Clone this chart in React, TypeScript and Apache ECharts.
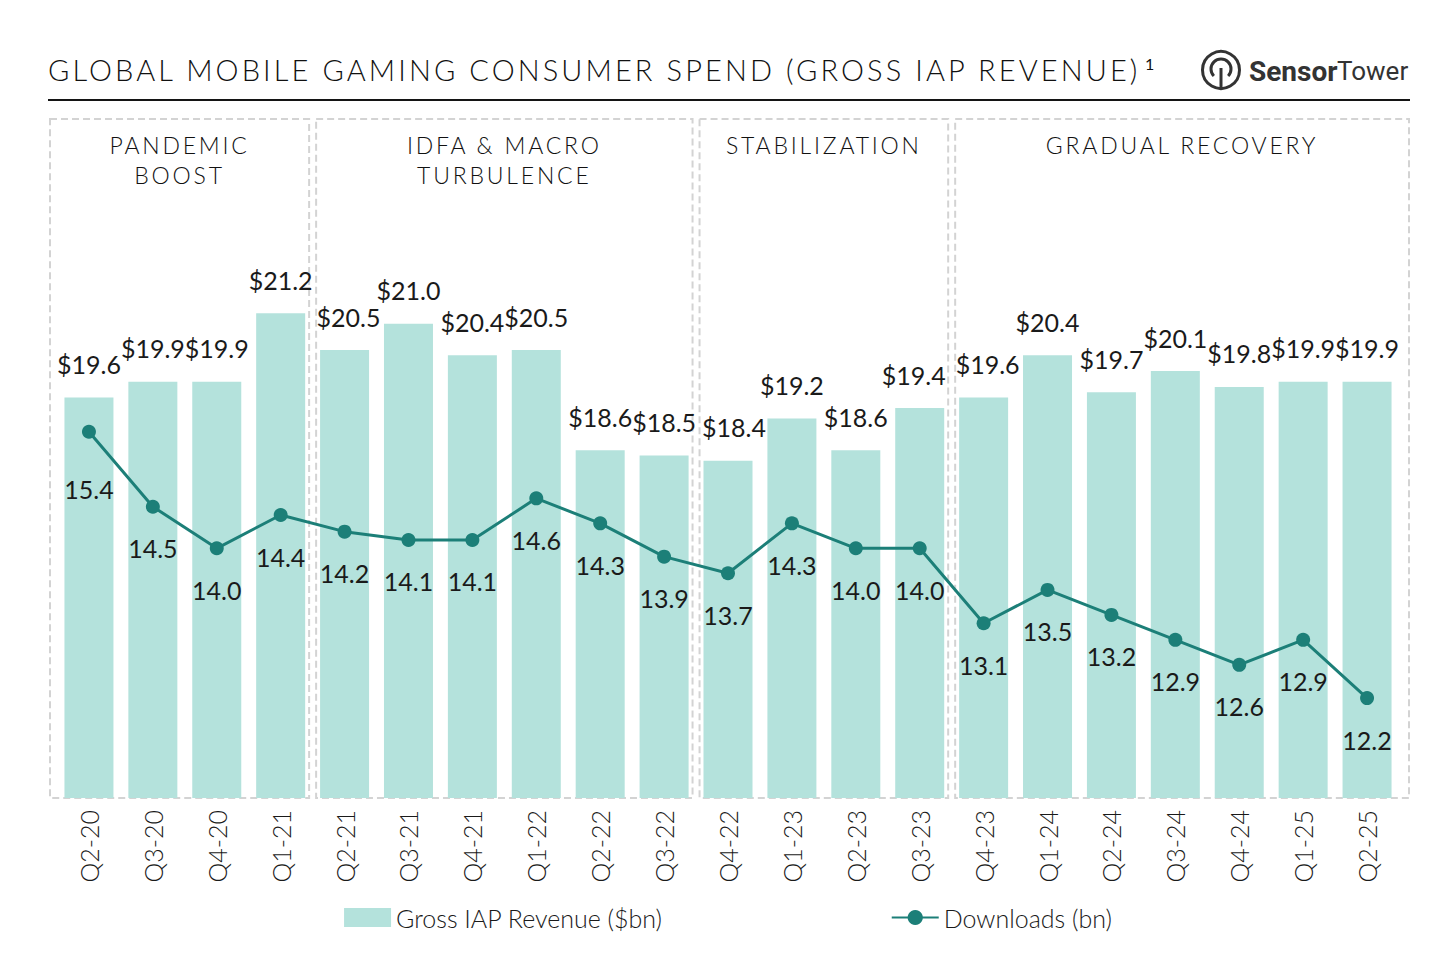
import { useRef, useEffect } from 'react'
import * as echarts from 'echarts'

const quarters = [
  'Q2-20', 'Q3-20', 'Q4-20', 'Q1-21', 'Q2-21', 'Q3-21', 'Q4-21', 'Q1-22', 'Q2-22', 'Q3-22', 'Q4-22',
  'Q1-23', 'Q2-23', 'Q3-23', 'Q4-23', 'Q1-24', 'Q2-24', 'Q3-24', 'Q4-24', 'Q1-25', 'Q2-25'
]
const revenue = [
  19.6, 19.9, 19.9, 21.2, 20.5, 21.0, 20.4, 20.5, 18.6, 18.5, 18.4,
  19.2, 18.6, 19.4, 19.6, 20.4, 19.7, 20.1, 19.8, 19.9, 19.9
]
const downloads = [
  15.4, 14.5, 14.0, 14.4, 14.2, 14.1, 14.1, 14.6, 14.3, 13.9, 13.7,
  14.3, 14.0, 14.0, 13.1, 13.5, 13.2, 12.9, 12.6, 12.9, 12.2
]
const phaseNames = ['PANDEMIC\nBOOST', 'IDFA & MACRO\nTURBULENCE', 'STABILIZATION', 'GRADUAL RECOVERY']
const phaseStart = ['Q2-20', 'Q2-21', 'Q4-22', 'Q4-23']
const phaseEnd = ['Q1-21', 'Q3-22', 'Q3-23', 'Q2-25']

const TITLE = 'GLOBAL MOBILE GAMING CONSUMER SPEND (GROSS IAP REVENUE)'
const REV_NAME = 'Gross IAP Revenue ($bn)'
const DL_NAME = 'Downloads (bn)'

const W = 1456
const H = 958
const GRID_L = 57
const GRID_R = 57
const GRID_TOP = 115.5
const GRID_BOTTOM = 160
const BAR = '#b4e2dc'
const LINE = '#1c7f78'
const INK = '#1a1a1a'
const FONT = 'Lato'

// small sideways nudges where a label would touch a phase border
const barNudge: Record<string, number> = { 'Q2-21': 4, 'Q4-22': 6, 'Q3-23': -6, 'Q4-23': 4 }
const dlNudge: Record<string, number> = { 'Q2-20': 16 }

export default function App() {
  const ref = useRef<HTMLDivElement>(null)

  useEffect(() => {
    const el = ref.current
    if (!el) return
    const chart = echarts.init(el, null, { renderer: 'svg' })

    const cw = (W - GRID_L - GRID_R) / quarters.length
    const baseY = H - GRID_BOTTOM
    const boxTop = 119

    const boxes: any[] = []
    phaseNames.forEach((name, k) => {
      const a = quarters.indexOf(phaseStart[k])
      const b = quarters.indexOf(phaseEnd[k])
      const x0 = k === 0 ? GRID_L - 7 : GRID_L + a * cw + 3.5
      const x1 = k === phaseNames.length - 1 ? GRID_L + (b + 1) * cw + 10 : GRID_L + (b + 1) * cw - 3.5
      boxes.push({
        type: 'rect',
        z: 0,
        shape: { x: x0, y: boxTop, width: x1 - x0, height: baseY - boxTop },
        style: { fill: 'none', stroke: '#d3d3d3', lineWidth: 2, lineDash: [7, 4] }
      })
      boxes.push({
        type: 'text',
        z: 5,
        x: (x0 + x1) / 2,
        y: 130,
        style: {
          text: name,
          fontSize: 23,
          fontFamily: FONT,
          fontWeight: 300,
          fill: '#111',
          align: 'center',
          verticalAlign: 'top',
          lineHeight: 30
        }
      })
    })

    const option: any = {
      animation: false,
      backgroundColor: '#ffffff',
      grid: { left: GRID_L, right: GRID_R, top: GRID_TOP, bottom: GRID_BOTTOM },
      legend: {
        left: 'center',
        top: 900,
        itemWidth: 47,
        itemHeight: 19,
        itemGap: 228,
        textStyle: { fontSize: 25, color: INK, fontFamily: FONT, fontWeight: 300 },
        data: [{ name: REV_NAME, icon: 'rect' }, { name: DL_NAME }]
      },
      xAxis: {
        type: 'category',
        data: quarters,
        axisLine: { show: false },
        axisTick: { show: false },
        axisLabel: { rotate: 90, margin: 12, fontSize: 25, color: INK, fontFamily: FONT, fontWeight: 300 }
      },
      yAxis: [
        { type: 'value', min: 12, max: 24.95, show: false },
        { type: 'value', min: 11, max: 19.2, show: false }
      ],
      graphic: [
        {
          type: 'text',
          x: 48,
          y: 69,
          style: { text: TITLE, fontSize: 29, fontFamily: FONT, fontWeight: 300, fill: '#111', verticalAlign: 'middle' }
        },
        {
          type: 'text',
          x: 1145,
          y: 63,
          style: { text: '1', fontSize: 16, fontFamily: FONT, fill: '#111', verticalAlign: 'middle' }
        },
        {
          type: 'line',
          shape: { x1: 48, y1: 100, x2: 1410, y2: 100 },
          style: { stroke: '#141414', lineWidth: 2 }
        },
        {
          type: 'circle',
          shape: { cx: 1221, cy: 70, r: 18.5 },
          style: { fill: 'none', stroke: '#333', lineWidth: 3 }
        },
        {
          type: 'arc',
          shape: { cx: 1221, cy: 69, r: 10, startAngle: Math.PI / 2 + 0.8, endAngle: Math.PI / 2 - 0.8 + Math.PI * 2, clockwise: true },
          style: { fill: 'none', stroke: '#333', lineWidth: 3 }
        },
        {
          type: 'line',
          shape: { x1: 1221, y1: 68, x2: 1221, y2: 88 },
          style: { stroke: '#333', lineWidth: 3 }
        },
        {
          type: 'text',
          x: 1249,
          y: 71,
          style: { text: 'Sensor', fontSize: 28, fontWeight: 'bold', fontFamily: 'Roboto', fill: '#333', verticalAlign: 'middle' }
        },
        {
          type: 'text',
          x: 1337,
          y: 71,
          style: { text: 'Tower', fontSize: 26, fontFamily: 'Roboto', fill: '#333', verticalAlign: 'middle' }
        },
        ...boxes
      ],
      series: [
        {
          name: REV_NAME,
          type: 'bar',
          barWidth: 49,
          itemStyle: { color: BAR },
          data: revenue.map((v, i) => ({
            value: v,
            label: barNudge[quarters[i]] ? { offset: [barNudge[quarters[i]], 0] } : undefined
          })),
          label: {
            show: true,
            position: 'top',
            distance: 21,
            fontSize: 25,
            color: INK,
            fontFamily: FONT,
            formatter: (p: any) => '$' + Number(p.value).toFixed(1)
          }
        },
        {
          name: DL_NAME,
          type: 'line',
          yAxisIndex: 1,
          symbol: 'circle',
          symbolSize: 14,
          color: LINE,
          lineStyle: { color: LINE, width: 3 },
          itemStyle: { color: LINE },
          data: downloads.map((v, i) => ({
            value: v,
            label: dlNudge[quarters[i]] ? { offset: [0, dlNudge[quarters[i]]] } : undefined
          })),
          label: {
            show: true,
            position: 'bottom',
            distance: 22,
            fontSize: 25,
            color: INK,
            fontFamily: FONT,
            formatter: (p: any) => Number(p.value).toFixed(1)
          }
        }
      ]
    }
    chart.setOption(option)

    return () => chart.dispose()
  }, [])

  return (
    <>
      <style>{`
        svg text[style*="29px"] { letter-spacing: 3.1px; }
        svg text[style*="23px"] { letter-spacing: 2.8px; }
      `}</style>
      <div
        ref={ref}
        style={{ position: 'fixed', left: 0, top: 0, width: W, height: H, background: '#fff' }}
      />
    </>
  )
}
